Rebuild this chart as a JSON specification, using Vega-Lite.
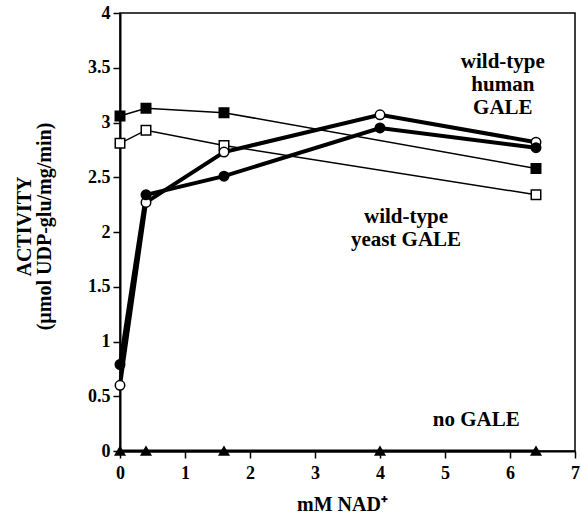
{
  "$schema": "https://vega.github.io/schema/vega-lite/v6.json",
  "width": 455,
  "height": 438,
  "autosize": "none",
  "padding": {"left": 120, "top": 13, "right": 6, "bottom": 63},
  "background": "white",
  "config": {
    "view": {"stroke": "black", "strokeWidth": 1.5},
    "font": "Liberation Serif"
  },
  "datasets": {
    "points": [
      {"series": "filled square", "nad": 0, "activity": 3.06},
      {"series": "filled square", "nad": 0.4, "activity": 3.13},
      {"series": "filled square", "nad": 1.6, "activity": 3.09},
      {"series": "filled square", "nad": 6.4, "activity": 2.58},
      {"series": "open square", "nad": 0, "activity": 2.81},
      {"series": "open square", "nad": 0.4, "activity": 2.93},
      {"series": "open square", "nad": 1.6, "activity": 2.79},
      {"series": "open square", "nad": 6.4, "activity": 2.34},
      {"series": "open circle", "nad": 0, "activity": 0.6},
      {"series": "open circle", "nad": 0.4, "activity": 2.27},
      {"series": "open circle", "nad": 1.6, "activity": 2.73},
      {"series": "open circle", "nad": 4, "activity": 3.07},
      {"series": "open circle", "nad": 6.4, "activity": 2.82},
      {"series": "filled circle", "nad": 0, "activity": 0.79},
      {"series": "filled circle", "nad": 0.4, "activity": 2.34},
      {"series": "filled circle", "nad": 1.6, "activity": 2.51},
      {"series": "filled circle", "nad": 4, "activity": 2.95},
      {"series": "filled circle", "nad": 6.4, "activity": 2.77},
      {"series": "triangle", "nad": 0, "activity": 0},
      {"series": "triangle", "nad": 0.4, "activity": 0},
      {"series": "triangle", "nad": 1.6, "activity": 0},
      {"series": "triangle", "nad": 4, "activity": 0},
      {"series": "triangle", "nad": 6.4, "activity": 0}
    ],
    "labels": [
      {"text": "wild-type\nhuman\nGALE", "nad": 5.89, "activity": 3.55},
      {"text": "wild-type\nyeast GALE", "nad": 4.4, "activity": 2.14},
      {"text": "no GALE", "nad": 5.48, "activity": 0.28}
    ]
  },
  "layer": [
    {
      "data": {"name": "points"},
      "transform": [{"filter": "datum.series === 'filled square' || datum.series === 'open square'"}],
      "mark": {"type": "line", "color": "black", "strokeWidth": 1.5},
      "encoding": {
        "x": {
          "field": "nad", "type": "quantitative",
          "scale": {"domain": [0, 7], "nice": false},
          "axis": {
            "title": "mM NAD⁺",
            "titleFont": "Liberation Serif", "titleFontSize": 20, "titleFontWeight": "bold", "titleColor": "black",
            "titleX": 222, "titleY": 53, "titleBaseline": "middle", "titleAlign": "center",
            "values": [0, 0.5, 1, 1.5, 2, 2.5, 3, 3.5, 4, 4.5, 5, 5.5, 6, 6.5, 7],
            "labelExpr": "datum.value % 1 === 0 ? '' + datum.value : ''",
            "labelFont": "Liberation Serif", "labelFontSize": 18, "labelFontWeight": "bold", "labelColor": "black",
            "labelPadding": 6,
            "tickSize": {"condition": {"test": "datum.value % 1 !== 0", "value": 4}, "value": 7},
            "tickColor": "black", "tickWidth": 1.5,
            "domainColor": "black", "domainWidth": 2,
            "grid": false, "labelFlush": false, "labelOverlap": false
          }
        },
        "y": {
          "field": "activity", "type": "quantitative",
          "scale": {"domain": [0, 4], "nice": false},
          "axis": {
            "title": ["ACTIVITY", "(µmol UDP-glu/mg/min)"],
            "titleFont": "Liberation Serif", "titleFontSize": 20, "titleFontWeight": "bold", "titleColor": "black",
            "titleLineHeight": 20,
            "titleAngle": -90, "titleX": -96, "titleY": 213, "titleAlign": "center", "titleBaseline": "middle",
            "values": [0, 0.25, 0.5, 0.75, 1, 1.25, 1.5, 1.75, 2, 2.25, 2.5, 2.75, 3, 3.25, 3.5, 3.75, 4],
            "labelExpr": "datum.value % 0.5 === 0 ? '' + datum.value : ''",
            "labelFont": "Liberation Serif", "labelFontSize": 18, "labelFontWeight": "bold", "labelColor": "black",
            "labelPadding": 3,
            "tickSize": {"condition": {"test": "datum.value % 0.5 !== 0", "value": 4}, "value": 7},
            "tickColor": "black", "tickWidth": 1.5,
            "domainColor": "black", "domainWidth": 2,
            "grid": false, "labelFlush": false, "labelOverlap": false
          }
        },
        "detail": {"field": "series"}
      }
    },
    {
      "data": {"name": "points"},
      "transform": [{"filter": "datum.series === 'open circle' || datum.series === 'filled circle'"}],
      "mark": {"type": "line", "color": "black", "strokeWidth": 4},
      "encoding": {
        "x": {"field": "nad", "type": "quantitative"},
        "y": {"field": "activity", "type": "quantitative"},
        "detail": {"field": "series"}
      }
    },
    {
      "data": {"name": "points"},
      "transform": [{"filter": "datum.series === 'triangle'"}],
      "mark": {"type": "line", "color": "black", "strokeWidth": 3},
      "encoding": {
        "x": {"field": "nad", "type": "quantitative"},
        "y": {"field": "activity", "type": "quantitative"}
      }
    },
    {
      "data": {"name": "points"},
      "mark": {"type": "point", "filled": false, "stroke": "black", "strokeWidth": 1.5, "opacity": 1},
      "encoding": {
        "x": {"field": "nad", "type": "quantitative"},
        "y": {"field": "activity", "type": "quantitative"},
        "shape": {
          "field": "series", "type": "nominal",
          "scale": {"domain": ["filled square", "open square", "open circle", "filled circle", "triangle"], "range": ["square", "square", "circle", "circle", "triangle-up"]},
          "legend": null
        },
        "fill": {
          "field": "series", "type": "nominal",
          "scale": {"domain": ["filled square", "open square", "open circle", "filled circle", "triangle"], "range": ["black", "white", "white", "black", "black"]},
          "legend": null
        },
        "size": {
          "field": "series", "type": "nominal",
          "scale": {"domain": ["filled square", "open square", "open circle", "filled circle", "triangle"], "range": [90, 90, 85, 85, 110]},
          "legend": null
        }
      }
    },
    {
      "data": {"name": "labels"},
      "mark": {"type": "text", "font": "Liberation Serif", "fontSize": 21, "fontWeight": "bold", "color": "black", "align": "center", "baseline": "middle", "lineBreak": "\n", "lineHeight": 23},
      "encoding": {
        "x": {"field": "nad", "type": "quantitative"},
        "y": {"field": "activity", "type": "quantitative"},
        "text": {"field": "text"}
      }
    }
  ]
}
